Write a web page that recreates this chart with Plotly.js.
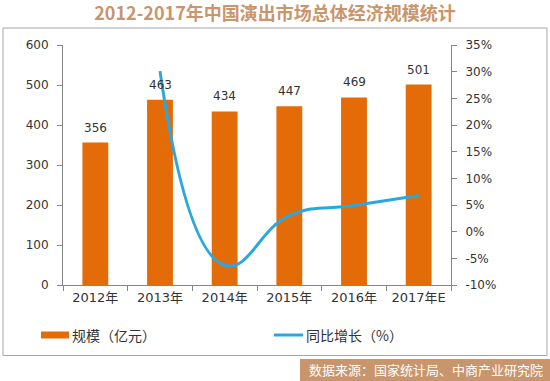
<!DOCTYPE html>
<html>
<head>
<meta charset="utf-8">
<script src="https://cdn.plot.ly/plotly-3.0.1.min.js"></script>
<style>
  html, body { margin: 0; padding: 0; background: #fff; }
  #chart { width: 550px; height: 381px; }
</style>
</head>
<body>
<div id="chart"></div>
<script>
const categories = ['2012年', '2013年', '2014年', '2015年', '2016年', '2017年E'];
const scaleValues = [356, 463, 434, 447, 469, 501];
const growthCategories = ['2013年', '2014年', '2015年', '2016年', '2017年E'];
const growthValues = [30.1, -6.3, 3.0, 4.9, 6.8];
const leftTicks = [0, 100, 200, 300, 400, 500, 600];
const rightTicks = [-10, -5, 0, 5, 10, 15, 20, 25, 30, 35];
const rightTickText = rightTicks.map(v => v + '%');

const FONT = '"DejaVu Sans", "Noto Sans CJK SC", sans-serif';
const CJK = '"Noto Sans CJK SC", sans-serif';
const AXIS = '#868686';

const barTrace = {
  type: 'bar',
  x: categories,
  y: scaleValues,
  marker: { color: '#e36c09' },
  width: 0.4,
  name: '规模（亿元）',
  showlegend: false
};

const lineTrace = {
  type: 'scatter',
  mode: 'lines',
  x: growthCategories,
  y: growthValues,
  yaxis: 'y2',
  line: { color: '#29a8e0', width: 3, shape: 'spline', smoothing: 1.3 },
  name: '同比增长（%）',
  showlegend: false
};

const labelAnnotations = categories.map((c, i) => ({
  x: c, y: scaleValues[i], xref: 'x', yref: 'y',
  text: String(scaleValues[i]),
  showarrow: false, yshift: 15,
  font: { family: FONT, size: 12, color: '#333' }
}));

const layout = {
  width: 550, height: 381,
  margin: { l: 63, r: 99, t: 45, b: 96, pad: 0 },
  paper_bgcolor: '#fff', plot_bgcolor: '#fff',
  title: {
    text: '<b>2012-2017年中国演出市场总体经济规模统计</b>',
    x: 0.5, xanchor: 'center', y: 0.963, yanchor: 'middle',
    font: { family: CJK, size: 18, color: '#c8956c' }
  },
  xaxis: {
    type: 'category',
    showline: true, linecolor: AXIS, linewidth: 1,
    ticks: 'outside', tickson: 'boundaries', ticklen: 5, tickcolor: AXIS,
    showgrid: false, zeroline: false,
    tickfont: { family: FONT, size: 13, color: '#333' }
  },
  yaxis: {
    range: [0, 600], tickvals: leftTicks,
    showline: true, linecolor: AXIS, linewidth: 1,
    ticks: 'outside', ticklen: 5, tickcolor: AXIS,
    showgrid: false, zeroline: false,
    tickfont: { family: FONT, size: 12, color: '#333' },
    ticklabelstandoff: 6
  },
  yaxis2: {
    overlaying: 'y', side: 'right',
    range: [-10, 35], tickmode: 'array', tickvals: rightTicks, ticktext: rightTickText,
    showline: true, linecolor: AXIS, linewidth: 1,
    ticks: 'outside', ticklen: 5, tickcolor: AXIS,
    showgrid: false, zeroline: false,
    tickfont: { family: FONT, size: 12, color: '#333' },
    ticklabelstandoff: 6
  },
  shapes: [
    { type: 'rect', xref: 'paper', yref: 'paper', x0: -0.1546, x1: 1.2474, y0: -0.2938, y1: 1.0708,
      line: { color: '#a6a6a6', width: 1 }, fillcolor: 'rgba(0,0,0,0)', layer: 'below' },
    { type: 'rect', xref: 'paper', yref: 'paper', x0: -0.0567, x1: 0.0155, y0: -0.2229, y1: -0.1938,
      line: { width: 0 }, fillcolor: '#e36c09' },
    { type: 'line', xref: 'paper', yref: 'paper', x0: 0.5438, x1: 0.6186, y0: -0.2083, y1: -0.2083,
      line: { color: '#29a8e0', width: 3 } },
    { type: 'rect', xref: 'paper', yref: 'paper', x0: 0.6108, x1: 1.26, y0: -0.42, y1: -0.3083,
      line: { width: 0 }, fillcolor: '#c8956c' }
  ],
  annotations: labelAnnotations.concat([
    { xref: 'paper', yref: 'paper', x: 0.0185, y: -0.2083, xanchor: 'left', yanchor: 'middle',
      text: '规模（亿元）', showarrow: false, font: { family: CJK, size: 14, color: '#333' } },
    { xref: 'paper', yref: 'paper', x: 0.621, y: -0.2083, xanchor: 'left', yanchor: 'middle',
      text: '同比增长（%）', showarrow: false, font: { family: CJK, size: 14, color: '#333' } },
    { xref: 'paper', yref: 'paper', x: 0.9356, y: -0.354, xanchor: 'center', yanchor: 'middle',
      text: '数据来源：国家统计局、中商产业研究院', showarrow: false,
      font: { family: CJK, size: 13, color: '#ffffff' } }
  ]),
  showlegend: false
};

Plotly.newPlot('chart', [barTrace, lineTrace], layout, { displayModeBar: false, staticPlot: true });
</script>
</body>
</html>
